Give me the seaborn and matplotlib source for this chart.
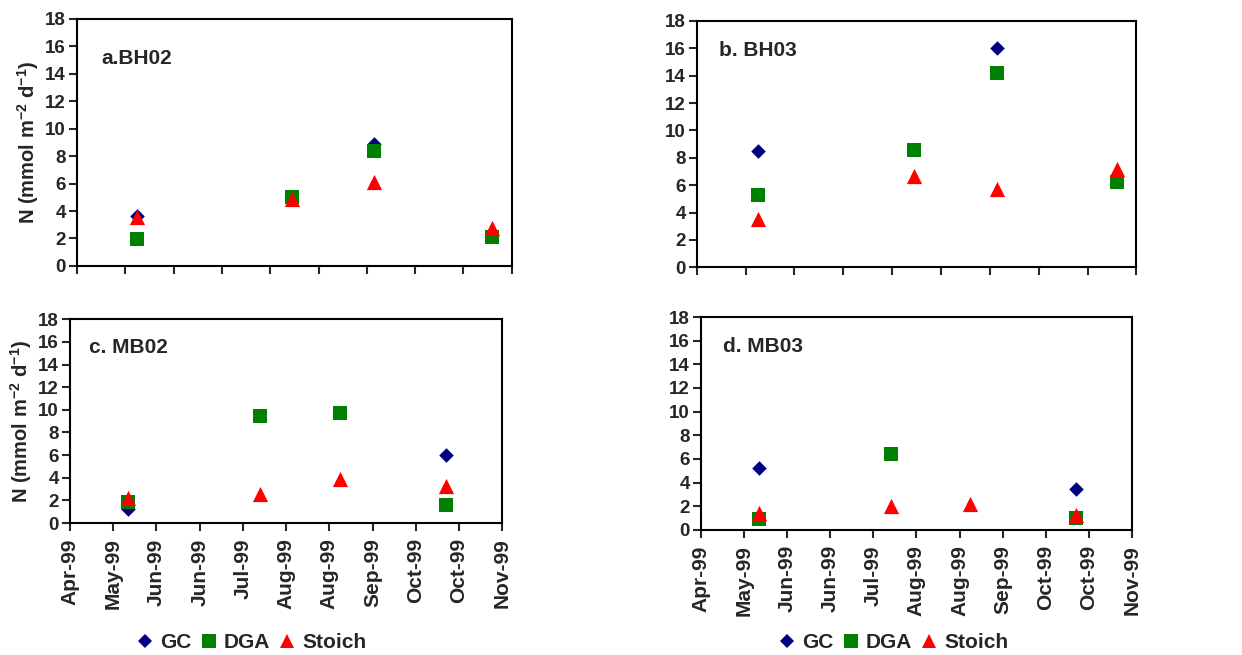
import matplotlib
matplotlib.use("Agg")
import matplotlib.pyplot as plt
import matplotlib.dates as mdates
from matplotlib.lines import Line2D
import seaborn as sns
import pandas as pd
import numpy as np

sns.set_style("ticks")
plt.rcParams["font.family"] = ["Liberation Sans", "DejaVu Sans"]
plt.rcParams["font.weight"] = "bold"
plt.rcParams["mathtext.fontset"] = "custom"
plt.rcParams["mathtext.rm"] = "Liberation Sans:bold"
plt.rcParams["mathtext.bf"] = "Liberation Sans:bold"
plt.rcParams["mathtext.default"] = "bf"

# sampling dates
dates_bh = pd.to_datetime(["1999-05-25", "1999-07-28", "1999-08-31", "1999-10-19"])
dates_mb = pd.to_datetime(["1999-05-27", "1999-07-27", "1999-09-02", "1999-10-21"])

nan = np.nan
# N fluxes (mmol m-2 d-1)
bh02_gc = [3.65, nan, 8.9, nan]
bh02_dga = [1.95, 5.0, 8.4, 2.1]
bh02_stoich = [3.55, 4.9, 6.1, 2.8]

bh03_gc = [8.5, nan, 16.0, nan]
bh03_dga = [5.3, 8.6, 14.2, 6.2]
bh03_stoich = [3.5, 6.65, 5.75, 7.2]

mb02_gc = [1.25, nan, nan, 6.0]
mb02_dga = [1.85, 9.5, 9.7, 1.6]
mb02_stoich = [2.2, 2.6, 3.85, 3.25]

mb03_gc = [5.25, nan, nan, 3.5]
mb03_dga = [0.95, 6.4, nan, 1.0]
mb03_stoich = [1.4, 2.05, 2.2, 1.3]

methods = ["GC", "DGA", "Stoich"]
colors = {"GC": "#000080", "DGA": "#008000", "Stoich": "#FF0000"}
markers = {"GC": "D", "DGA": "s", "Stoich": "^"}
sizes = {"GC": 55, "DGA": 110, "Stoich": 120}

panels = [
    ("a.BH02", dates_bh, [bh02_gc, bh02_dga, bh02_stoich]),
    ("b. BH03", dates_bh, [bh03_gc, bh03_dga, bh03_stoich]),
    ("c. MB02", dates_mb, [mb02_gc, mb02_dga, mb02_stoich]),
    ("d. MB03", dates_mb, [mb03_gc, mb03_dga, mb03_stoich]),
]

rects = [
    [0.062, 0.594, 0.350, 0.377],
    [0.561, 0.592, 0.354, 0.376],
    [0.0564, 0.2015, 0.348, 0.311],
    [0.5644, 0.191, 0.347, 0.325],
]
title_pos = [(0.055, 0.838), (0.05, 0.882), (0.044, 0.864), (0.051, 0.86)]
legend_pos = [(252 / 1242, 1 - 643 / 655), (894 / 1242, 1 - 643 / 655)]

tick_start = pd.Timestamp("1999-04-30")
ticks_top = pd.date_range(tick_start, periods=10, freq="20D")
ticks_bot = pd.date_range(tick_start, periods=11, freq="20D")

fig = plt.figure(figsize=(12.42, 6.55), dpi=100)

for i, ((title, dates, series), rect) in enumerate(zip(panels, rects)):
    ax = fig.add_axes(rect)
    rows = []
    for m, vals in zip(methods, series):
        for d, v in zip(dates, vals):
            rows.append({"date": d, "N": v, "method": m})
    df = pd.DataFrame(rows).dropna()
    for m in methods:
        sub = df[df["method"] == m]
        sns.scatterplot(data=sub, x="date", y="N", ax=ax, marker=markers[m],
                        color=colors[m], s=sizes[m], linewidth=0, legend=False,
                        zorder=3)
    ax.set_ylim(0, 18)
    ax.set_yticks(range(0, 19, 2))
    if i < 2:
        ax.set_xlim(ticks_top[0], ticks_top[-1])
        ax.set_xticks(ticks_top)
        ax.set_xticklabels([])
    else:
        ax.set_xlim(ticks_bot[0], ticks_bot[-1])
        ax.set_xticks(ticks_bot)
        ax.xaxis.set_major_formatter(mdates.DateFormatter("%b-%y"))
        plt.setp(ax.get_xticklabels(), rotation=90, ha="center", va="top",
                 fontsize=15)
    ax.tick_params(axis="y", direction="out", length=6, width=1.5,
                   labelsize=13.5, pad=2)
    ax.tick_params(axis="x", direction="out", length=6, width=1.5, pad=5)
    for sp in ax.spines.values():
        sp.set_visible(True)
        sp.set_linewidth(1.5)
        sp.set_color("black")
    ax.set_xlabel("")
    if i % 2 == 0:
        ax.set_ylabel("N (mmol m$^{-2}$ d$^{-1}$)", fontsize=14.5,
                      fontweight="bold", labelpad=3)
    else:
        ax.set_ylabel("")
    ax.text(title_pos[i][0], title_pos[i][1], title, transform=ax.transAxes,
            fontsize=15, fontweight="bold", ha="left", va="center")

    if i >= 2:
        handles = [Line2D([], [], linestyle="none", marker=markers[m],
                          color=colors[m], markersize=10 if m != "GC" else 7.5,
                          markeredgewidth=0, label=m) for m in methods]
        fig.legend(handles=handles, loc="center", ncol=3, frameon=False,
                   bbox_to_anchor=legend_pos[i - 2],
                   fontsize=15, handletextpad=0.35, columnspacing=0.5,
                   handlelength=0.7, borderaxespad=0, borderpad=0)

fig.savefig("out.png", dpi=100)
